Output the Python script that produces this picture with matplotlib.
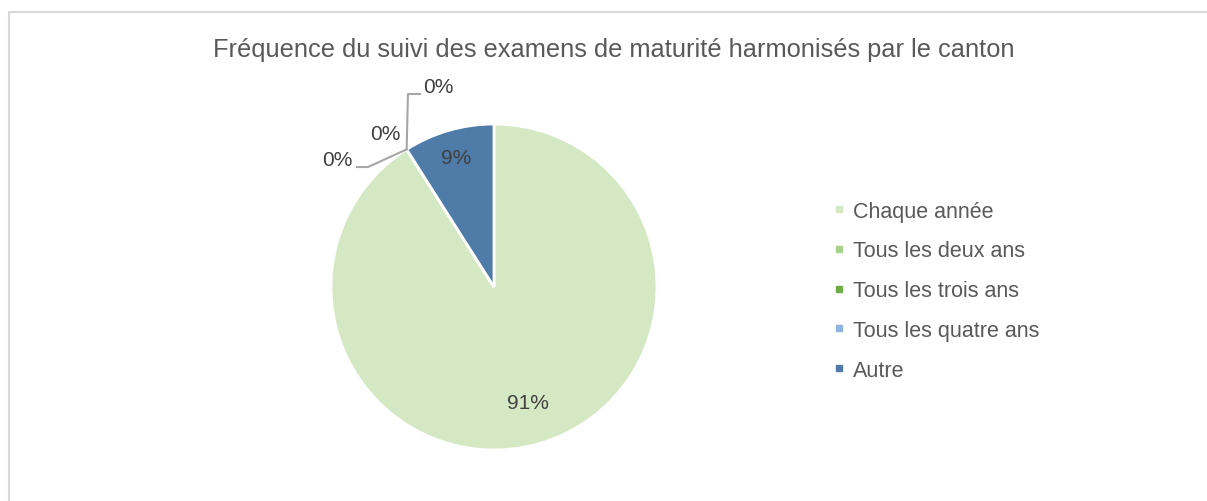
import matplotlib
matplotlib.use("Agg")
import matplotlib.pyplot as plt
import numpy as np
from matplotlib.lines import Line2D
from matplotlib.patches import Rectangle

plt.rcParams["font.family"] = ["Liberation Sans", "DejaVu Sans"]

title = "Fréquence du suivi des examens de maturité harmonisés par le canton"
categories = ["Chaque année", "Tous les deux ans", "Tous les trois ans",
              "Tous les quatre ans", "Autre"]
shares = [91, 0, 0, 0, 9]
colors = ["#D5E8C4", "#A9D18E", "#70AD47", "#8FB4E0", "#4E7BA7"]

W, H = 1207, 502
fig = plt.figure(figsize=(W / 100, H / 100), dpi=100)

# chart-area frame (only top and left edges visible in the crop)
fig.patches.append(Rectangle((8.5 / W, -0.1), 1.2, (H - 13) / H + 0.1,
                             transform=fig.transFigure, fill=False,
                             edgecolor="#D9D9D9", linewidth=1.5))

fig.text(614 / W, 1 - 50 / H, title, ha="center", va="center",
         fontsize=18.3, color="#595959")

# pie axes: box is exactly the circle's bounding box
cx, cy, r = 494, 288, 163
ax = fig.add_axes([(cx - r) / W, (H - cy - r) / H, 2 * r / W, 2 * r / H])
wedges, _ = ax.pie(shares, colors=colors, startangle=90, counterclock=False,
                   wedgeprops=dict(edgecolor="white", linewidth=2))
ax.set_xlim(-1, 1)
ax.set_ylim(-1, 1)
ax.set_aspect("auto")
ax.axis("off")

# labels for non-zero slices, placed along each wedge's mid angle
dist = {0: 0.74, 4: 0.83}
for i, w in enumerate(wedges):
    if shares[i] == 0:
        continue
    mid = np.deg2rad((w.theta1 + w.theta2) / 2)
    ax.text(dist[i] * np.cos(mid), dist[i] * np.sin(mid), f"{shares[i]}%",
            ha="center", va="center", fontsize=15, color="#404040")

# zero-slice labels with leader lines from the shared boundary point
edge_ang = np.deg2rad(wedges[1].theta1)
ex, ey = np.cos(edge_ang), np.sin(edge_ang)
lc = "#A6A6A6"
ax.plot([ex, -0.773, -0.840], [ey, 0.736, 0.736], color=lc, lw=1.5,
        clip_on=False)
ax.plot([ex, -0.528, -0.454], [ey, 1.184, 1.184], color=lc, lw=1.5,
        clip_on=False)
for (tx, ty) in [(-0.963, 0.785), (-0.669, 0.939), (-0.344, 1.227)]:
    ax.text(tx, ty, "0%", ha="center", va="center", fontsize=15,
            color="#404040", clip_on=False)

handles = [Line2D([], [], marker="s", linestyle="none", markersize=5,
                  markerfacecolor=c, markeredgecolor=c) for c in colors]
fig.legend(handles, categories, loc="upper left",
           bbox_to_anchor=(822 / W, 1 - 191 / H), frameon=False,
           fontsize=15.5, labelcolor="#595959", handlelength=0.6,
           handletextpad=0.35, labelspacing=0.87, borderpad=0)

fig.savefig("out.png", dpi=100)
